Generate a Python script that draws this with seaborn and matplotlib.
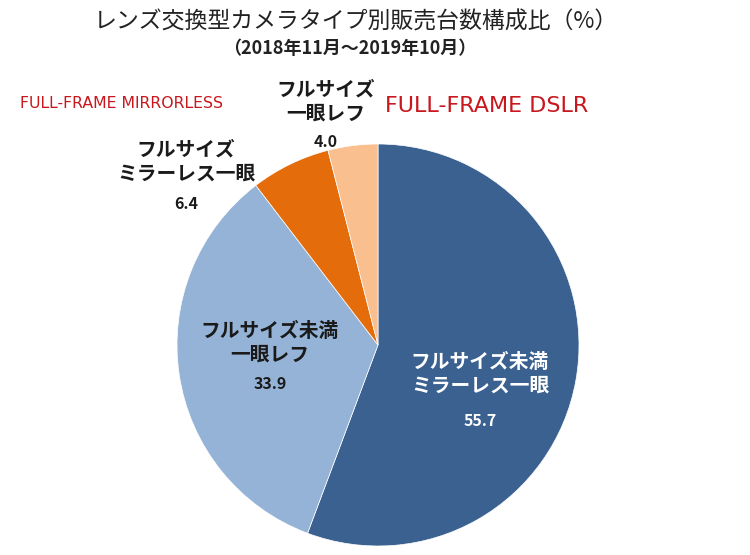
import matplotlib.pyplot as plt
import seaborn as sns

# data (% share, Nov 2018 - Oct 2019)
names = ["フルサイズ未満\nミラーレス一眼", "フルサイズ未満\n一眼レフ",
         "フルサイズ\nミラーレス一眼", "フルサイズ\n一眼レフ"]
shares = [55.7, 33.9, 6.4, 4.0]
colors = ["#3A6190", "#95B3D7", "#E46C0A", "#F9BF8F"]
text_colors = ["white", "#1a1a1a", "#1a1a1a", "#1a1a1a"]

title = "レンズ交換型カメラタイプ別販売台数構成比（%）"
subtitle = "（2018年11月～2019年10月）"
notes = ["FULL-FRAME MIRRORLESS", "FULL-FRAME DSLR"]

sns.set_theme(style="white")
plt.rcParams['font.family'] = ['Noto Sans CJK JP', 'DejaVu Sans']

W, H = 750, 555
fig = plt.figure(figsize=(W / 100, H / 100), dpi=100)

# pie centred at (378, 345) px with radius ~200 px
cx, cy, r = 378, 345, 201
ax = fig.add_axes([(cx - r) / W, (H - cy - r) / H, 2 * r / W, 2 * r / H])
wedges, _ = ax.pie(shares, colors=colors, startangle=90, counterclock=False,
                   wedgeprops=dict(linewidth=0.5, edgecolor="white"))
ax.set_xlim(-1, 1)
ax.set_ylim(-1, 1)
ax.set_aspect("equal")
ax.axis("off")

# label anchors (pixel centres of name block and value)
label_px = [(480, 374, 421), (270, 343, 384), (186, 162, 204), (326, 102, 142)]

def to_fig(px, py):
    return px / W, (H - py) / H

for name, val, tc, (px, py_name, py_val) in zip(names, shares, text_colors, label_px):
    fx, fy = to_fig(px, py_name)
    fig.text(fx, fy, name, ha="center", va="center", fontsize=14.2,
             fontweight="bold", color=tc, linespacing=1.3)
    fx, fy = to_fig(px, py_val)
    fig.text(fx, fy, f"{val:.1f}", ha="center", va="center", fontsize=11.5,
             fontweight="bold", color=tc)

fx, fy = to_fig(356, 22)
fig.text(fx, fy, title, ha="center", va="center", fontsize=16.5, color="#222222")
fx, fy = to_fig(350, 49)
fig.text(fx, fy, subtitle, ha="center", va="center", fontsize=13,
         fontweight="bold", color="#222222")

fx, fy = to_fig(20, 104)
fig.text(fx, fy, notes[0], ha="left", va="center", fontsize=11.3, color="#C8181E",
         family=['Liberation Sans Narrow', 'DejaVu Sans'])
fx, fy = to_fig(385, 106)
fig.text(fx, fy, notes[1], ha="left", va="center", fontsize=16, color="#C8181E",
         family=['Liberation Sans Narrow', 'DejaVu Sans'])

fig.savefig("out.png", dpi=100)
